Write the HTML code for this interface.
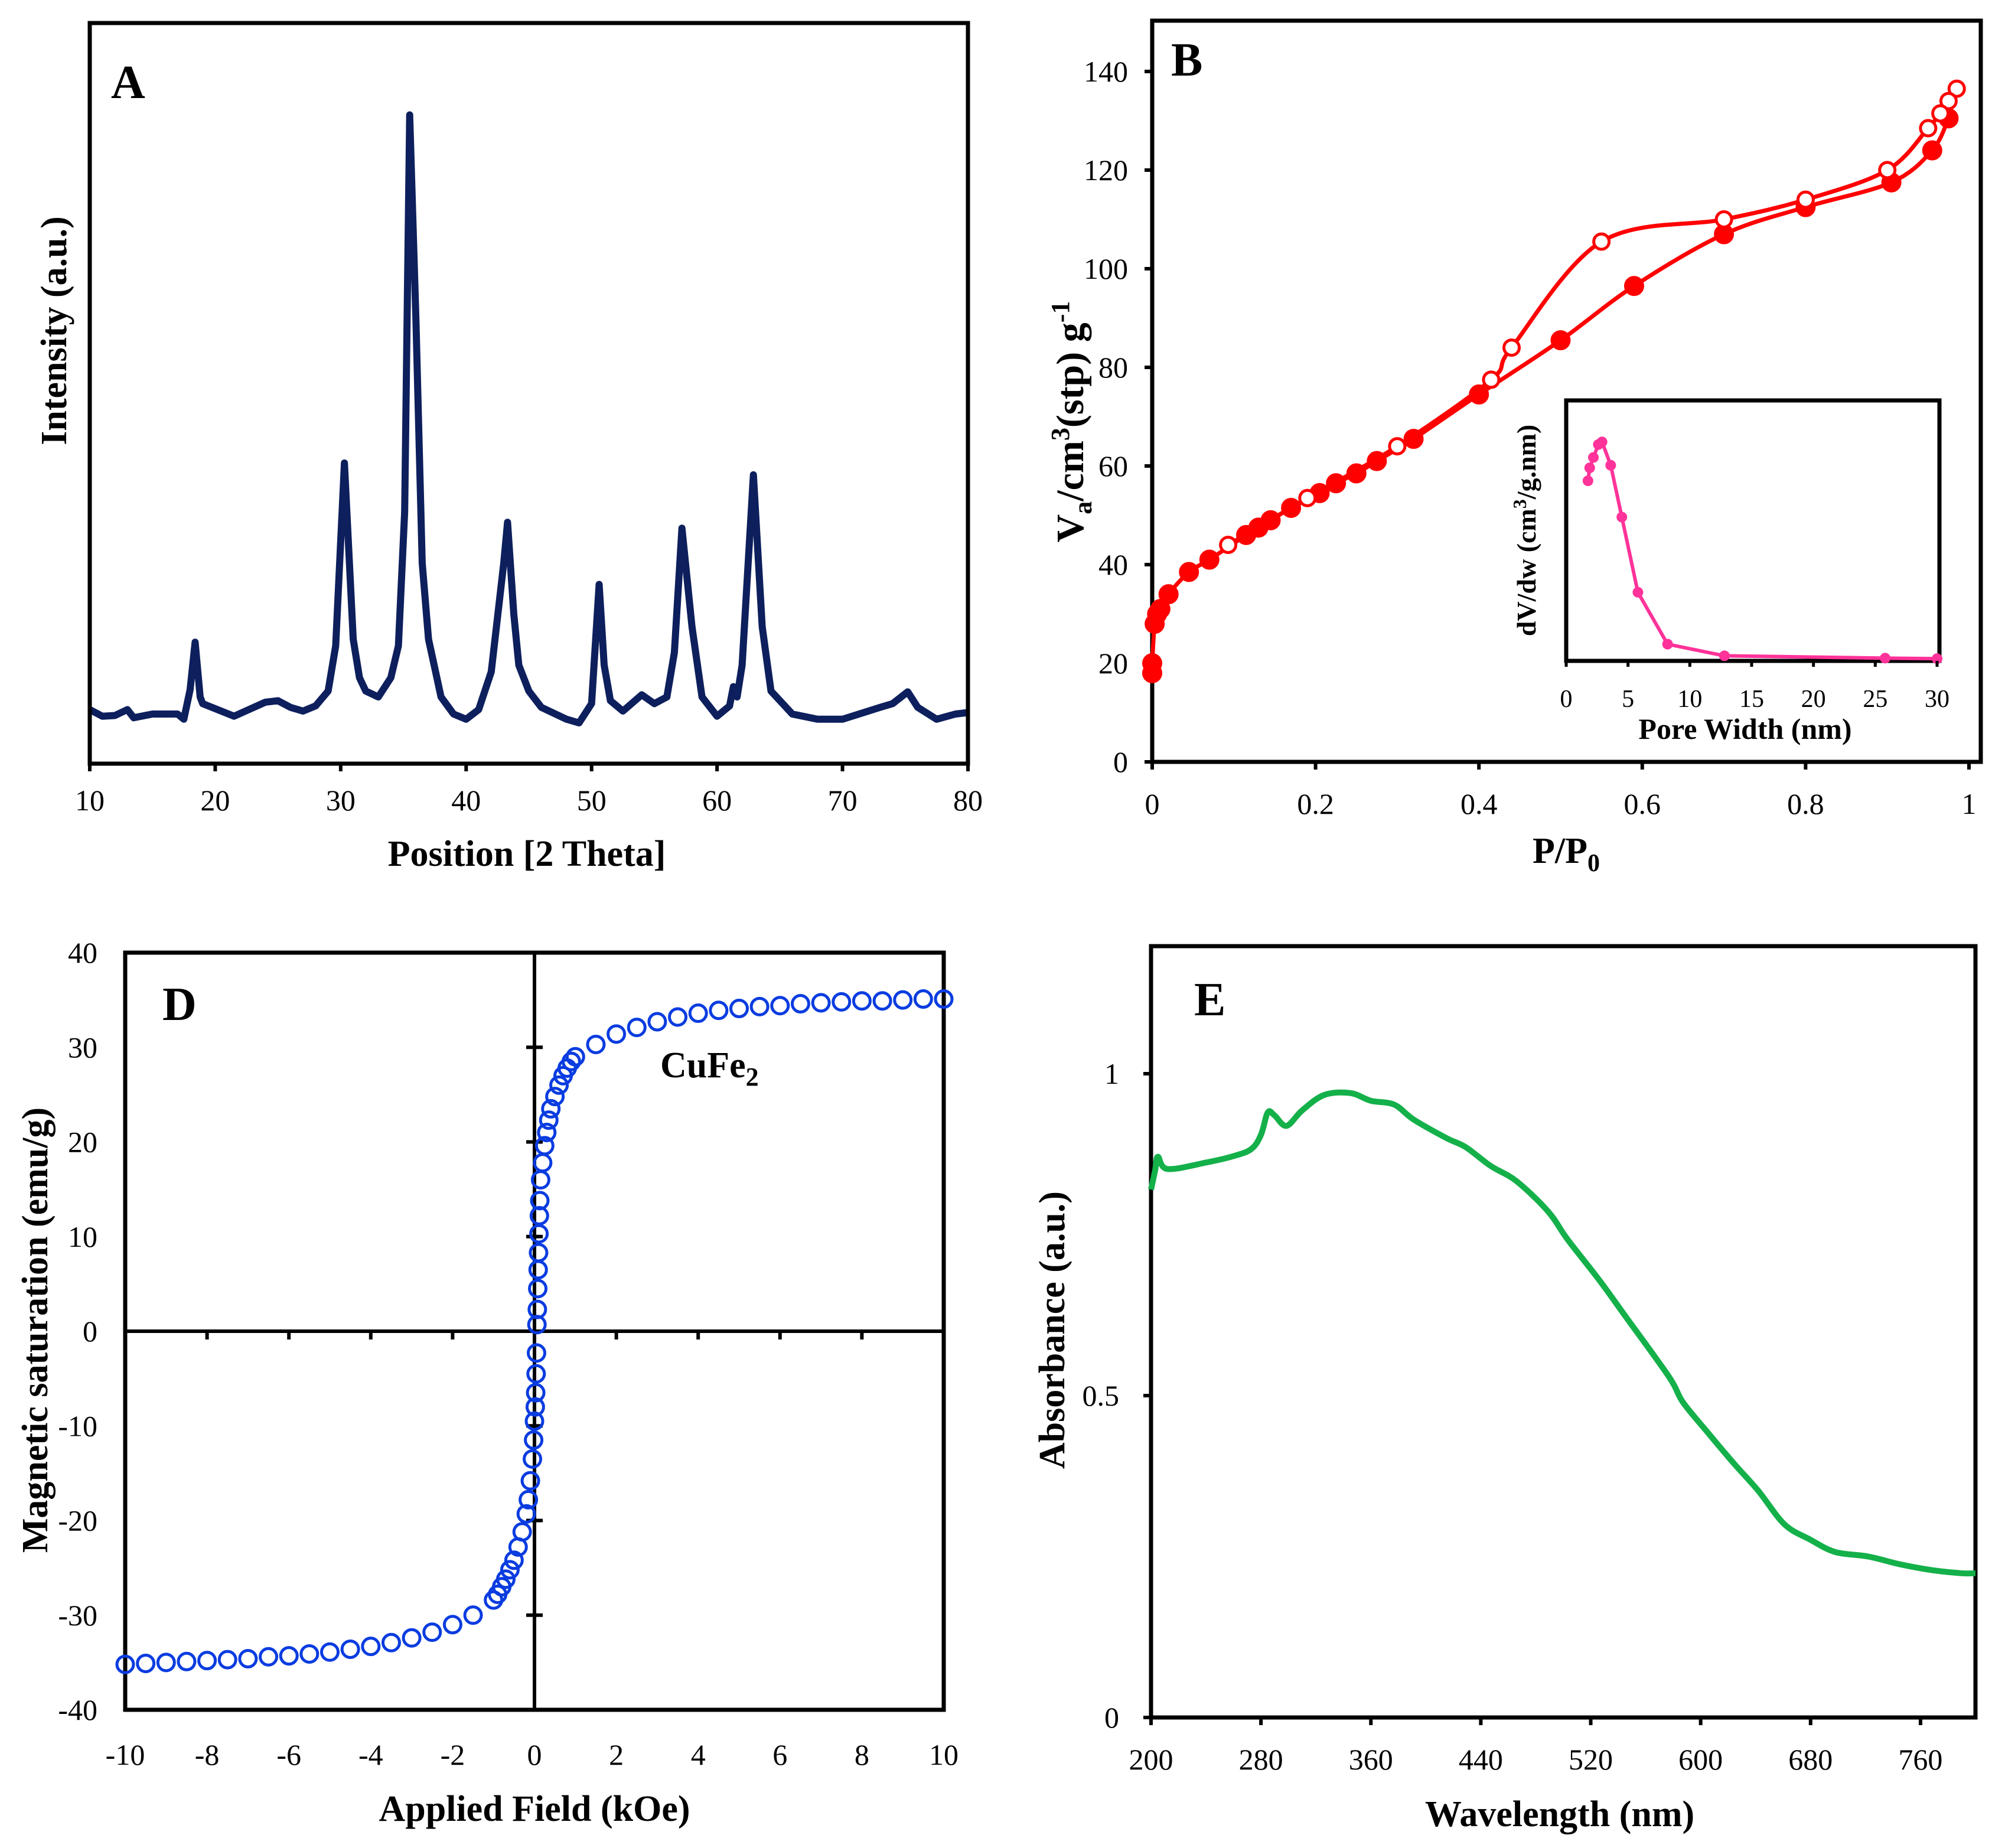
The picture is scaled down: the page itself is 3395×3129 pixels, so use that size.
<!DOCTYPE html>
<html><head><meta charset="utf-8"><style>
html,body{margin:0;padding:0;background:#fff}
svg{display:block}
text{font-family:"Liberation Serif",serif;fill:#000}
.t{font-size:50px}.ti{font-size:42px}
.b{font-weight:bold;font-size:62px}
.L{font-weight:bold;font-size:80px}
</style></head><body>
<svg id="s" width="3395" height="3129" viewBox="0 0 3395 3129" xmlns="http://www.w3.org/2000/svg"></svg>
<script>
// ---- Panel A: XRD ----
const xrdTheta=[10,11,12,13,13.5,15,17,17.5,18,18.4,18.8,19,21.5,24,25,26,27,28,29,29.6,30.3,31,31.5,32,33,34,34.6,35.1,35.5,36,36.5,37,38,39,40,41,42,43,43.3,43.8,44.2,45,46,48,49,50,50.6,51,51.5,52.5,54,55,56,56.6,57.2,58,58.8,60,61,61.3,61.6,62,62.9,63.6,64.3,66,68,70,73,74,75.2,76,77.5,79,80];
const xrdInt=[7.3,6.4,6.5,7.3,6.2,6.7,6.7,6.0,10,16.4,9,8.1,6.4,8.3,8.5,7.6,7.1,7.8,9.8,15.9,40.6,16.8,11.6,9.8,9.0,11.6,15.9,34.0,87.6,59.9,27.1,16.8,9.0,6.7,6.0,7.3,12.4,27.1,32.6,20.2,13.3,9.8,7.6,6.0,5.5,8.1,24.2,13.3,8.5,7.1,9.3,8.1,9.0,15.0,31.8,18.5,9.0,6.4,7.8,10.4,9.0,13.3,39.0,18.5,9.8,6.7,6.0,6.0,7.6,8.1,9.7,7.6,6.0,6.7,6.9];
const xrdTicks=[10,20,30,40,50,60,70,80];
// ---- Panel B: BET ----
const adsP=[0,0,0.003,0.006,0.01,0.02,0.045,0.07,0.115,0.13,0.145,0.17,0.205,0.225,0.25,0.275,0.32,0.4,0.5,0.59,0.7,0.8,0.905,0.955,0.975];
const adsV=[18,20,28,30,31,34,38.5,41,46,47.5,49,51.5,54.5,56.5,58.5,61,65.5,74.5,85.5,96.5,107,112.5,117.5,124,130.5];
const desP=[0.985,0.975,0.965,0.95,0.9,0.8,0.7,0.55,0.44,0.415,0.3,0.19,0.093];
const desV=[136.5,134,131.5,128.5,120,114,110,105.5,84,77.5,64,53.5,44];
const betXTicks=[0,0.2,0.4,0.6,0.8,1];
const betYTicks=[0,20,40,60,80,100,120,140];
const poreW=[1.76,1.9,2.2,2.6,2.9,3.6,4.5,5.8,8.2,12.8,25.8,30];
const poreDV=[69,74,78,83,84,75,55,26,6,1.5,0.6,0.4];
const poreTicks=[0,5,10,15,20,25,30];
// ---- Panel D: VSM ----
const fieldH=[-10,-9.5,-9,-8.5,-8,-7.5,-7,-6.5,-6,-5.5,-5,-4.5,-4,-3.5,-3,-2.5,-2,-1.5,-1,-0.9,-0.8,-0.7,-0.6,-0.5,-0.4,-0.3,-0.2,-0.15,-0.1,-0.05,-0.02,0,0.02,0.03,0.04,0.05,0.06,0.07,0.08,0.09,0.1,0.11,0.12,0.13,0.15,0.2,0.25,0.3,0.35,0.4,0.5,0.6,0.7,0.8,0.9,1,1.5,2,2.5,3,3.5,4,4.5,5,5.5,6,6.5,7,7.5,8,8.5,9,9.5,10];
const magM=[-35.2,-35.1,-35,-34.9,-34.8,-34.7,-34.6,-34.4,-34.3,-34.1,-33.9,-33.6,-33.3,-32.9,-32.4,-31.8,-31,-30,-28.4,-27.8,-27,-26.2,-25.2,-24.2,-22.8,-21.2,-19.3,-17.8,-15.8,-13.5,-11.5,-9.5,-8,-6.5,-4.5,-2.3,0.7,2.3,4.5,6.5,8.3,10.3,12.2,13.8,16,17.8,19.6,21,22.3,23.5,24.8,26,27,27.8,28.5,29,30.3,31.4,32.1,32.7,33.2,33.6,33.9,34.1,34.3,34.4,34.6,34.7,34.8,34.9,34.9,35,35.1,35.1];
const vsmXTicks=[-10,-8,-6,-4,-2,0,2,4,6,8,10];
const vsmYTicks=[-40,-30,-20,-10,0,10,20,30,40];
// ---- Panel E: UV-Vis ----
const waveNm=[200,203,205,212,240,260,273,280,285,290,298.6,310,326,345,360,377,391,415,429,447,466,489,503,526,545,577,587,605,624,642,661,680,698,722,745,768,790,800];
const absA=[0.82,0.85,0.871,0.852,0.862,0.872,0.883,0.905,0.94,0.935,0.919,0.943,0.967,0.97,0.958,0.952,0.929,0.9,0.886,0.857,0.833,0.786,0.743,0.68,0.624,0.529,0.49,0.443,0.395,0.352,0.3,0.276,0.257,0.25,0.238,0.229,0.224,0.224];
const uvXTicks=[200,280,360,440,520,600,680,760];
const uvYTicks=[0,0.5,1];

const NS="http://www.w3.org/2000/svg";
const svg=document.getElementById('s');
function mk(tag,attrs,parent){const e=document.createElementNS(NS,tag);for(const k in attrs)e.setAttribute(k,attrs[k]);(parent||svg).appendChild(e);return e;}
function txt(x,y,s,cls,anchor,parent){const e=mk('text',{x:x,y:y,'class':cls,'text-anchor':anchor||'middle'},parent);e.textContent=s;return e;}
function lin(d0,d1,r0,r1){return v=>r0+(v-d0)/(d1-d0)*(r1-r0);}
function pathD(xs,ys,fx,fy){return xs.map((v,i)=>(i?'L':'M')+fx(v).toFixed(1)+' '+fy(ys[i]).toFixed(1)).join(' ');}
function smoothD(xs,ys,fx,fy){const P=xs.map((v,i)=>[fx(v),fy(ys[i])]);let d='M'+P[0][0].toFixed(1)+' '+P[0][1].toFixed(1);
for(let i=0;i<P.length-1;i++){const p0=P[Math.max(0,i-1)],p1=P[i],p2=P[i+1],p3=P[Math.min(P.length-1,i+2)];
const c1=[p1[0]+(p2[0]-p0[0])/6,p1[1]+(p2[1]-p0[1])/6],c2=[p2[0]-(p3[0]-p1[0])/6,p2[1]-(p3[1]-p1[1])/6];
d+=' C'+c1[0].toFixed(1)+' '+c1[1].toFixed(1)+' '+c2[0].toFixed(1)+' '+c2[1].toFixed(1)+' '+p2[0].toFixed(1)+' '+p2[1].toFixed(1);}return d;}

// ===== Panel A =====
{const g=mk('g',{});
const fx=lin(10,80,152,1639),fy=lin(0,100,1293,39);
const p=mk('path',{d:pathD(xrdTheta,xrdInt,fx,fy),fill:'none',stroke:'#0d1f5c','stroke-width':12,'stroke-linejoin':'round'},g);

const f=mk('rect',{x:152,y:39,width:1487,height:1254,fill:'none',stroke:'#000','stroke-width':7},g);

xrdTicks.forEach(v=>{mk('line',{x1:fx(v),x2:fx(v),y1:1293,y2:1306,stroke:'#000','stroke-width':6},g);
const t=txt(fx(v),1372,String(v),'t','middle',g);});
let t=txt(892,1466,'Position [2 Theta]','b','middle',g);
t=txt(0,0,'Intensity (a.u.)','b','middle',g);t.setAttribute('transform','translate(112,560) rotate(-90)');
t=txt(188,166,'A','L','start',g);}

// ===== Panel B =====
{const g=mk('g',{});
const fx=lin(0,1,1951,3334),fy=lin(0,140,1290,121);
const f=mk('rect',{x:1951,y:35,width:1403,height:1255,fill:'none',stroke:'#000','stroke-width':7},g);

betXTicks.forEach(v=>{mk('line',{x1:fx(v),x2:fx(v),y1:1290,y2:1303,stroke:'#000','stroke-width':6},g);
const t=txt(fx(v),1378,String(v),'t','middle',g);});
betYTicks.forEach(v=>{mk('line',{x1:1938,x2:1951,y1:fy(v),y2:fy(v),stroke:'#000','stroke-width':6},g);
const t=txt(1910,fy(v)+17,String(v),'t','end',g);});
let p=mk('path',{d:smoothD(adsP,adsV,fx,fy),fill:'none',stroke:'#f00','stroke-width':7,'stroke-linejoin':'round'},g);

p=mk('path',{d:smoothD(desP,desV,fx,fy),fill:'none',stroke:'#f00','stroke-width':7,'stroke-linejoin':'round'},g);

adsP.forEach((v,i)=>{const c=mk('circle',{cx:fx(v),cy:fy(adsV[i]),r:15,fill:'#f00',stroke:'#f00','stroke-width':4},g);
});
desP.forEach((v,i)=>{const c=mk('circle',{cx:fx(v),cy:fy(desV[i]),r:13,fill:'#fff',stroke:'#f00','stroke-width':5},g);
});
// inset
const ix=lin(0,30,2652,3280),iy=lin(0,100,1117,678);
const ib=mk('rect',{x:2652,y:678,width:632,height:441,fill:'#fff',stroke:'#000','stroke-width':7},g);

p=mk('path',{d:pathD(poreW,poreDV,ix,iy),fill:'none',stroke:'#ff3399','stroke-width':6},g);

poreW.forEach((v,i)=>{const c=mk('circle',{cx:ix(v),cy:iy(poreDV[i]),r:9,fill:'#ff3399'},g);
});
poreTicks.forEach(v=>{mk('line',{x1:ix(v),x2:ix(v),y1:1119,y2:1129,stroke:'#000','stroke-width':5},g);
const t=txt(ix(v),1197,String(v),'ti','middle',g);});
let t=txt(2955,1251,'Pore Width (nm)','b','middle',g);t.style.fontSize='50px';
t=mk('text',{'class':'b','text-anchor':'middle',transform:'translate(2600,898) rotate(-90)'},g);t.style.fontSize='46px';
t.innerHTML='dV/dw (cm<tspan dy="-16" font-size="32">3</tspan><tspan dy="16">/g.nm)</tspan>';

t=mk('text',{'class':'b','text-anchor':'middle',transform:'translate(1834,714) rotate(-90)'},g);t.style.fontSize='66px';
t.innerHTML='V<tspan dy="14" font-size="44">a</tspan><tspan dy="-14">/cm</tspan><tspan dy="-24" font-size="44">3</tspan><tspan dy="24">(stp) g</tspan><tspan dy="-24" font-size="44">-1</tspan>';

t=mk('text',{'class':'b','text-anchor':'middle',x:2652,y:1461},g);
t.innerHTML='P/P<tspan dy="14" font-size="42">0</tspan>';

t=txt(1983,128,'B','L','start',g);}

// ===== Panel D =====
{const g=mk('g',{});
const fx=lin(-10,10,212,1598),fy=lin(-40,40,2895,1613);
const f=mk('rect',{x:212,y:1613,width:1386,height:1282,fill:'none',stroke:'#000','stroke-width':7},g);

let a=mk('line',{x1:212,x2:1598,y1:fy(0),y2:fy(0),stroke:'#000','stroke-width':6},g);
a=mk('line',{x1:fx(0),x2:fx(0),y1:1613,y2:2895,stroke:'#000','stroke-width':6},g);
vsmXTicks.forEach(v=>{if(v>-10&&v<10)mk('line',{x1:fx(v),x2:fx(v),y1:fy(0),y2:fy(0)+14,stroke:'#000','stroke-width':6},g);
const t=txt(fx(v),2988,String(v),'t','middle',g);});
vsmYTicks.forEach(v=>{if(v>-40&&v<40&&v!==0)mk('line',{x1:fx(0)-14,x2:fx(0)+14,y1:fy(v),y2:fy(v),stroke:'#000','stroke-width':6},g);
const t=txt(165,fy(v)+17,String(v),'t','end',g);});
fieldH.forEach((v,i)=>{const c=mk('circle',{cx:fx(v),cy:fy(magM[i]),r:14,fill:'none',stroke:'#0a3ce0','stroke-width':5},g);
});
let t=txt(905,3083,'Applied Field (kOe)','b','middle',g);
t=txt(0,0,'Magnetic saturation (emu/g)','b','middle',g);t.setAttribute('transform','translate(80,2252) rotate(-90)');
t=mk('text',{'class':'b','text-anchor':'start',x:1118,y:1824},g);t.innerHTML='CuFe<tspan dy="14" font-size="44">2</tspan>';

t=txt(275,1727,'D','L','start',g);}

// ===== Panel E =====
{const g=mk('g',{});
const fx=lin(200,800,1949,3345),fy=lin(0,1.2,2908,1600);
const f=mk('rect',{x:1949,y:1602,width:1396,height:1306,fill:'none',stroke:'#000','stroke-width':7},g);

uvXTicks.forEach(v=>{mk('line',{x1:fx(v),x2:fx(v),y1:2908,y2:2921,stroke:'#000','stroke-width':6},g);
const t=txt(fx(v),2996,String(v),'t','middle',g);});
uvYTicks.forEach(v=>{mk('line',{x1:1936,x2:1949,y1:fy(v),y2:fy(v),stroke:'#000','stroke-width':6},g);
const t=txt(1895,fy(v)+17,String(v),'t','end',g);});
const p=mk('path',{d:smoothD(waveNm,absA,fx,fy),fill:'none',stroke:'#14b04a','stroke-width':10,'stroke-linejoin':'round'},g);

let t=txt(2641,3092,'Wavelength (nm)','b','middle',g);
t=txt(0,0,'Absorbance (a.u.)','b','middle',g);t.setAttribute('transform','translate(1802,2252) rotate(-90)');
t=txt(2022,1719,'E','L','start',g);}
</script>
</body></html>
